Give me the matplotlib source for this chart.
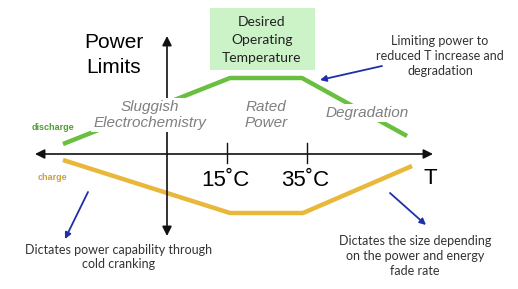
import matplotlib.pyplot as plt
from matplotlib.patches import Rectangle

# diagram coordinates (image pixels, y down)
discharge_x = [63, 230, 302, 407]
discharge_y = [144, 78, 78, 136]
charge_x = [63, 230, 303, 412]
charge_y = [160, 213, 213, 166]
tick_x = [227, 307]
tick_labels = ['15˚C', '35˚C']

green = '#69bf3f'
gold = '#e9b73a'
navy = '#1f2fa8'
note_font = 'Lato'

fig = plt.figure(figsize=(5.18, 2.89), dpi=100)
ax = fig.add_axes([0, 0, 1, 1])
ax.set_xlim(0, 518)
ax.set_ylim(289, 0)
ax.axis('off')

# axes arrows
ax.annotate('', xy=(35, 154), xytext=(433, 154),
            arrowprops=dict(arrowstyle='<|-|>', color='#111111', lw=1.2,
                            mutation_scale=14, shrinkA=0, shrinkB=0))
ax.annotate('', xy=(167, 36), xytext=(167, 236),
            arrowprops=dict(arrowstyle='<|-|>', color='#111111', lw=1.2,
                            mutation_scale=14, shrinkA=0, shrinkB=0))
for x, lab in zip(tick_x, tick_labels):
    ax.plot([x, x], [143, 163], color='#111111', lw=1.0)
    ax.text(x - 2, 181, lab, ha='center', va='center', fontsize=16,
            family='Liberation Sans')
ax.text(430, 179, 'T', ha='center', va='center', fontsize=16,
        family='Liberation Sans')

# power limit curves
ax.plot(discharge_x, discharge_y, color=green, lw=3.2, solid_capstyle='butt', zorder=2)
ax.plot(charge_x, charge_y, color=gold, lw=3.2, solid_capstyle='butt', zorder=2)
ax.text(53, 128, 'discharge', color='#4f9e36', fontsize=6.5, ha='center',
        va='center', family='Liberation Sans', weight='bold')
ax.text(52, 177, 'charge', color='#c9a13f', fontsize=6.5, ha='center',
        va='center', family='Liberation Sans', weight='bold')

ax.text(114, 55, 'Power\nLimits', ha='center', va='center', fontsize=15,
        family='Liberation Sans', linespacing=1.4)

# region labels
wb = dict(facecolor='white', edgecolor='none', pad=1.5)
ax.text(150, 115, 'Sluggish\nElectrochemistry', ha='center', va='center',
        fontsize=11, style='italic', color='#7f7f7f', family='Liberation Sans',
        linespacing=1.1, bbox=wb, zorder=3)
ax.text(266, 115, 'Rated\nPower', ha='center', va='center', fontsize=11,
        style='italic', color='#7f7f7f', family='Liberation Sans',
        linespacing=1.1, zorder=3)
ax.text(367, 113, 'Degradation', ha='center', va='center', fontsize=11,
        style='italic', color='#7f7f7f', family='Liberation Sans',
        bbox=wb, zorder=3)

# desired temperature box
ax.add_patch(Rectangle((210, 8), 105, 62, facecolor='#ccf2c8',
                       edgecolor='none', zorder=1))
ax.text(262, 40, 'Desired\nOperating\nTemperature', ha='center', va='center',
        fontsize=10, family=note_font, color='#222222', linespacing=1.6,
        zorder=2)

# notes and arrows
ax.text(440, 56, 'Limiting power to\nreduced T increase and\ndegradation',
        ha='center', va='center', fontsize=9, family=note_font,
        color='#333333', linespacing=1.3)
ax.annotate('', xy=(320, 80), xytext=(382, 66),
            arrowprops=dict(arrowstyle='-|>', color=navy, lw=1.3,
                            mutation_scale=9, shrinkA=0, shrinkB=0))
ax.text(119, 257, 'Dictates power capability through\ncold cranking',
        ha='center', va='center', fontsize=9, family=note_font,
        color='#333333', linespacing=1.3)
ax.annotate('', xy=(65, 239), xytext=(88, 192),
            arrowprops=dict(arrowstyle='-|>', color=navy, lw=1.3,
                            mutation_scale=9, shrinkA=0, shrinkB=0))
ax.text(415, 256, 'Dictates the size depending\non the power and energy\nfade rate',
        ha='center', va='center', fontsize=9, family=note_font,
        color='#333333', linespacing=1.3)
ax.annotate('', xy=(426, 225), xytext=(390, 193),
            arrowprops=dict(arrowstyle='-|>', color=navy, lw=1.3,
                            mutation_scale=9, shrinkA=0, shrinkB=0))

fig.savefig('out.png', dpi=100)
